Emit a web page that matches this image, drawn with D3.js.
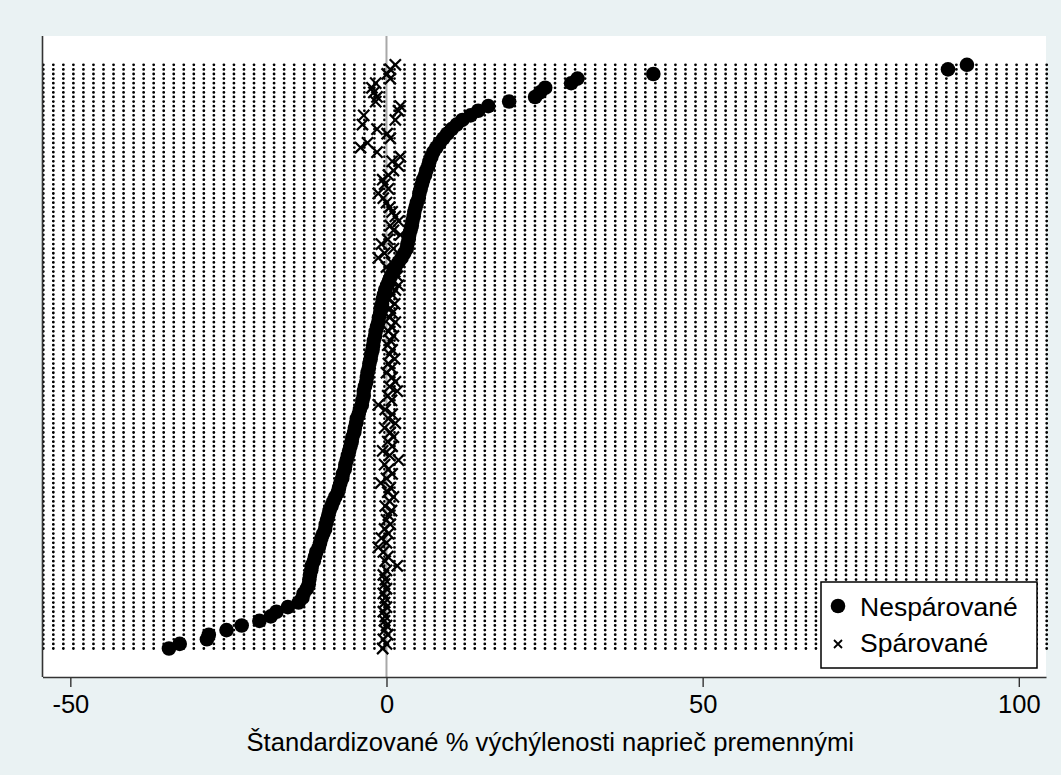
<!DOCTYPE html>
<html><head><meta charset="utf-8">
<script src="https://cdn.jsdelivr.net/npm/d3@7"></script>
<style>
html,body{margin:0;padding:0;background:#eaf2f3;}
svg{display:block;font-family:"Liberation Sans",Arial,sans-serif;}
</style></head>
<body>
<svg id="chart" width="1061" height="775"></svg>
<script>
// Unmatched (Nespárované) standardized % bias, rows sorted bottom → top
const unmatched = [
-34.4,-32.7,-28.4,-28.1,-25.3,-22.9,-20.1,-18.3,-17.4,-15.6,
-13.9,-13.3,-13.1,-12.6,-12.3,-12.2,-12.1,-11.9,-11.8,-11.5,
-11.3,-11.1,-10.7,-10.5,-10.3,-10.0,-9.7,-9.6,-9.4,-9.2,
-9.0,-8.7,-8.4,-8.1,-7.7,-7.5,-7.3,-7.0,-6.9,-6.6,
-6.5,-6.3,-6.1,-5.9,-5.7,-5.5,-5.4,-5.1,-5.0,-4.8,
-4.7,-4.4,-4.2,-3.9,-3.8,-3.6,-3.6,-3.4,-3.2,-3.1,
-3.0,-2.8,-2.7,-2.5,-2.4,-2.2,-2.1,-2.0,-1.8,-1.7,
-1.5,-1.3,-1.2,-1.0,-0.9,-0.7,-0.6,-0.4,-0.2,0.1,
0.4,0.7,1.1,1.4,1.9,2.4,2.8,3.2,3.3,3.5,
3.6,3.8,4.0,4.1,4.3,4.4,4.6,4.8,5.1,5.2,
5.4,5.6,5.8,6.1,6.3,6.6,6.8,7.1,7.4,7.9,
8.4,9.0,9.6,10.3,11.1,12.0,13.3,14.5,16.1,19.4,
23.5,24.3,25.1,29.2,30.2,42.2,88.8,91.8
];
// Matched (Spárované) standardized % bias, same rows
const matched = [
-0.6,0.0,-0.5,0.2,-0.3,0.0,-0.3,-0.2,-0.5,0.0,
-0.3,-0.2,-0.5,0.0,-0.3,-0.2,-0.5,0.0,1.7,-0.2,
0.2,-0.5,-1.3,0.0,-0.8,0.3,-0.3,0.6,0.0,0.3,
0.8,-0.2,0.5,1.1,0.2,0.6,-0.9,0.0,0.9,0.3,
-0.3,1.9,0.5,-0.6,0.9,0.2,1.1,0.6,-0.3,1.4,
0.3,0.9,-0.2,-1.3,0.8,0.2,1.7,0.5,1.4,0.9,
0.0,0.8,0.3,1.3,0.5,0.9,0.2,0.6,1.1,0.3,
0.8,1.4,0.5,0.9,0.6,1.3,0.3,0.9,1.4,1.9,
0.8,1.7,1.3,0.0,0.8,-1.3,-0.3,1.1,-0.8,0.2,
2.2,1.1,0.6,1.9,1.4,0.9,0.5,0.0,-0.5,-1.3,
0.3,-0.3,-0.6,0.3,1.1,1.9,0.9,2.2,-1.5,-4.1,
-3.0,0.6,0.1,-1.5,-3.8,1.4,-3.6,1.9,2.2,-1.7,
-1.5,-2.0,-2.3,-1.7,0.6,0.1,0.6,1.4
];
const xTicks = [-50, 0, 50, 100];
const xTitle = "Štandardizované % výchýlenosti naprieč premennými";
const legendLabels = ["Nespárované", "Spárované"];

const svg = d3.select("#chart");
const W = 1061, H = 775;
const plot = {l: 42.5, r: 1046, t: 36, b: 677};

svg.append("rect").attr("x",0).attr("y",0).attr("width",W).attr("height",H).attr("fill","#eaf2f3");
svg.append("rect").attr("x",plot.l).attr("y",plot.t).attr("width",plot.r-plot.l).attr("height",plot.b-plot.t).attr("fill","#ffffff");

const rows = d3.range(unmatched.length);
const x = d3.scaleLinear().domain([-54.4, 104.3]).range([plot.l, plot.r]);
const y = d3.scalePoint().domain(rows).range([648.5, 64.8]);

// dotted row lines
const x0 = 43.3, x1 = 1046.7, gap = (x1 - x0) / 100;
svg.append("g").selectAll("line").data(rows).join("line")
  .attr("x1", x0).attr("x2", x1 + 0.5)
  .attr("y1", d => y(d)).attr("y2", d => y(d))
  .attr("stroke", "#000").attr("stroke-width", 2.8)
  .attr("stroke-linecap", "round")
  .attr("stroke-dasharray", `0 ${gap}`);

// zero reference line
svg.append("line").attr("x1", x(0)).attr("x2", x(0)).attr("y1", plot.t).attr("y2", plot.b)
  .attr("stroke", "#a8a8a8").attr("stroke-width", 2);

// matched markers (x)
const xs = 5.6;
svg.append("g").selectAll("path").data(rows).join("path")
  .attr("d", d => {
    const cx = x(matched[d]), cy = y(d);
    return `M${cx-xs},${cy-xs}L${cx+xs},${cy+xs}M${cx-xs},${cy+xs}L${cx+xs},${cy-xs}`;
  })
  .attr("stroke", "#000").attr("stroke-width", 2.2).attr("fill", "none");

// unmatched markers (filled circles)
svg.append("g").selectAll("circle").data(rows).join("circle")
  .attr("cx", d => x(unmatched[d])).attr("cy", d => y(d)).attr("r", 7.3)
  .attr("fill", "#000");

// left axis line
svg.append("line").attr("x1", plot.l).attr("x2", plot.l).attr("y1", plot.t).attr("y2", plot.b)
  .attr("stroke", "#333").attr("stroke-width", 1.6);

// bottom axis
const ax = svg.append("g").attr("transform", `translate(0,${plot.b})`)
  .call(d3.axisBottom(x).tickValues(xTicks).tickFormat(d3.format("d")).tickSize(10).tickSizeOuter(0).tickPadding(8));
ax.select(".domain").attr("stroke", "#333").attr("stroke-width", 1.6);
ax.selectAll(".tick line").attr("stroke", "#333").attr("stroke-width", 1.4);
ax.selectAll(".tick text").attr("fill", "#000").style("font-size", "25.5px")
  .style("font-family", '"Liberation Sans",Arial,sans-serif').text(d => d < 0 ? "-" + Math.abs(d) : d);

svg.append("text").attr("x", (plot.l + plot.r) / 2 + 6).attr("y", 751)
  .attr("text-anchor", "middle").attr("font-size", 25.6).attr("fill", "#000").text(xTitle);

// legend
const lg = svg.append("g");
lg.append("rect").attr("x", 821).attr("y", 582).attr("width", 216).attr("height", 86)
  .attr("fill", "#fff").attr("stroke", "#000").attr("stroke-width", 1.5);
lg.append("circle").attr("cx", 838).attr("cy", 606).attr("r", 7.3).attr("fill", "#000");
const ls = 4;
lg.append("path").attr("d", `M${838-ls},${644-ls}L${838+ls},${644+ls}M${838-ls},${644+ls}L${838+ls},${644-ls}`)
  .attr("stroke", "#000").attr("stroke-width", 1.8);
lg.append("text").attr("x", 860).attr("y", 616).attr("font-size", 26.5).text(legendLabels[0]);
lg.append("text").attr("x", 860).attr("y", 652).attr("font-size", 26.5).text(legendLabels[1]);
</script>
</body></html>
